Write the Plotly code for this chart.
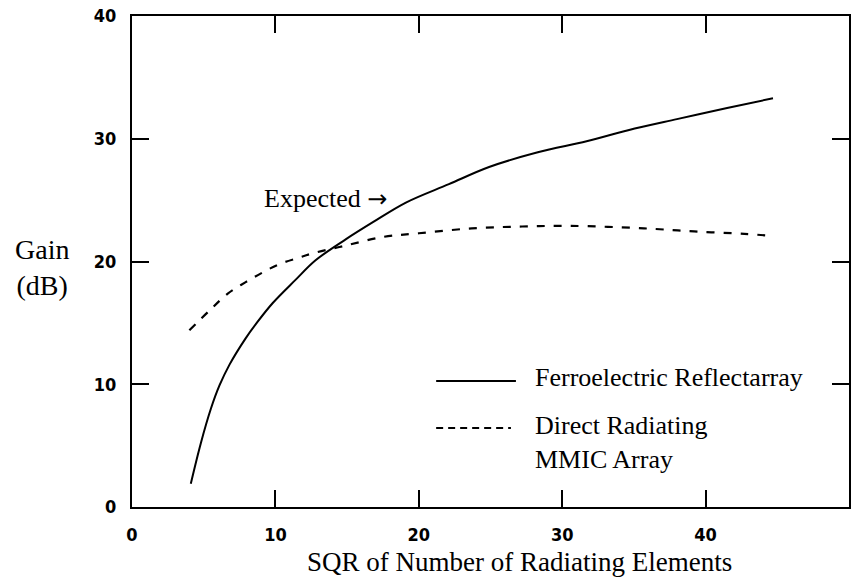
import plotly.graph_objects as go

# Ferroelectric Reflectarray (solid)
fe_x = [4.1, 4.8, 5.5, 6.1, 6.8, 7.9, 8.7, 9.8, 11.4, 12.8, 14.9, 16.8, 19.1, 22.1, 24.9, 28.3, 31.7, 34.6, 38.0, 41.5, 44.7]
fe_y = [1.9, 5.2, 8.0, 9.9, 11.6, 13.7, 15.0, 16.6, 18.5, 20.1, 21.8, 23.2, 24.8, 26.3, 27.7, 28.9, 29.8, 30.7, 31.6, 32.5, 33.3]

# Direct Radiating MMIC Array (dashed)
mm_x = [4.0, 5.4, 6.7, 7.9, 9.1, 10.3, 11.6, 12.7, 14.9, 17.5, 20.0, 23.7, 27.2, 30.6, 35.7, 39.2, 42.7, 44.5]
mm_y = [14.4, 16.0, 17.4, 18.3, 19.1, 19.8, 20.3, 20.7, 21.3, 22.0, 22.3, 22.7, 22.85, 22.9, 22.7, 22.45, 22.25, 22.1]

x_ticks = [0, 10, 20, 30, 40, 50]
y_ticks = [0, 10, 20, 30, 40]

serif = "Liberation Serif, Times New Roman, serif"
tickf = dict(family="Liberation Sans Narrow, DejaVu Sans Condensed, Arial Narrow, sans-serif",
             size=18, color="black", weight="bold")

fig = go.Figure()
fig.add_trace(go.Scatter(x=fe_x, y=fe_y, mode="lines", line=dict(color="black", width=2, shape="spline", smoothing=1.0),
                         showlegend=False))
fig.add_trace(go.Scatter(x=mm_x, y=mm_y, mode="lines", line=dict(color="black", width=2.2, dash="8px,9px", shape="spline"),
                         showlegend=False))

axis_common = dict(showline=True, linecolor="black", linewidth=2, mirror="ticks", ticks="inside",
                   ticklen=17, tickwidth=2, tickcolor="black", showgrid=False, zeroline=False,
                   tickfont=tickf)

fig.update_xaxes(range=[0, 50], tickvals=x_ticks, ticktext=[str(v) for v in x_ticks],
                 ticklabelstandoff=10, **axis_common)
fig.update_yaxes(range=[0, 40], tickvals=y_ticks, ticktext=[str(v) for v in y_ticks],
                 ticklabelstandoff=10, **axis_common)

W, H = 854, 579
L, R, T, B = 132, 3, 16, 72
pw, ph = W - L - R, H - T - B


def px(xp):
    return (xp - L) / pw


def py(yp):
    return (H - B - yp) / ph


# legend samples
fig.add_shape(type="line", xref="paper", yref="paper", x0=px(437), x1=px(517), y0=py(381), y1=py(381),
              line=dict(color="black", width=2))
fig.add_shape(type="line", xref="paper", yref="paper", x0=px(437), x1=px(512), y0=py(428), y1=py(428),
              line=dict(color="black", width=2, dash="7px,5px"))

fnt = dict(family=serif, size=26, color="black")
fig.add_annotation(xref="paper", yref="paper", x=px(534), y=py(377), text="Ferroelectric Reflectarray",
                   showarrow=False, xanchor="left", yanchor="middle", font=fnt)
fig.add_annotation(xref="paper", yref="paper", x=px(534), y=py(442), text="Direct Radiating<br>MMIC Array",
                   showarrow=False, xanchor="left", yanchor="middle", align="left", font=fnt)
fig.add_annotation(xref="paper", yref="paper", x=px(262), y=py(198),
                   text="Expected <span style=\"font-family:'DejaVu Sans'; font-size:24px\">→</span>",
                   showarrow=False, xanchor="left", yanchor="middle", font=fnt)
fig.add_annotation(xref="paper", yref="paper", x=px(42), y=py(267), text="Gain<br>(dB)",
                   showarrow=False, xanchor="center", yanchor="middle", align="center",
                   font=dict(family=serif, size=28, color="black"))
fig.add_annotation(xref="paper", yref="paper", x=px(521), y=py(562), text="SQR of Number of Radiating Elements",
                   showarrow=False, xanchor="center", yanchor="middle",
                   font=dict(family=serif, size=27, color="black"))

fig.update_layout(width=W, height=H, margin=dict(l=L, r=R, t=T, b=B), plot_bgcolor="white",
                  paper_bgcolor="white", showlegend=False)

fig.write_html("out.html")
